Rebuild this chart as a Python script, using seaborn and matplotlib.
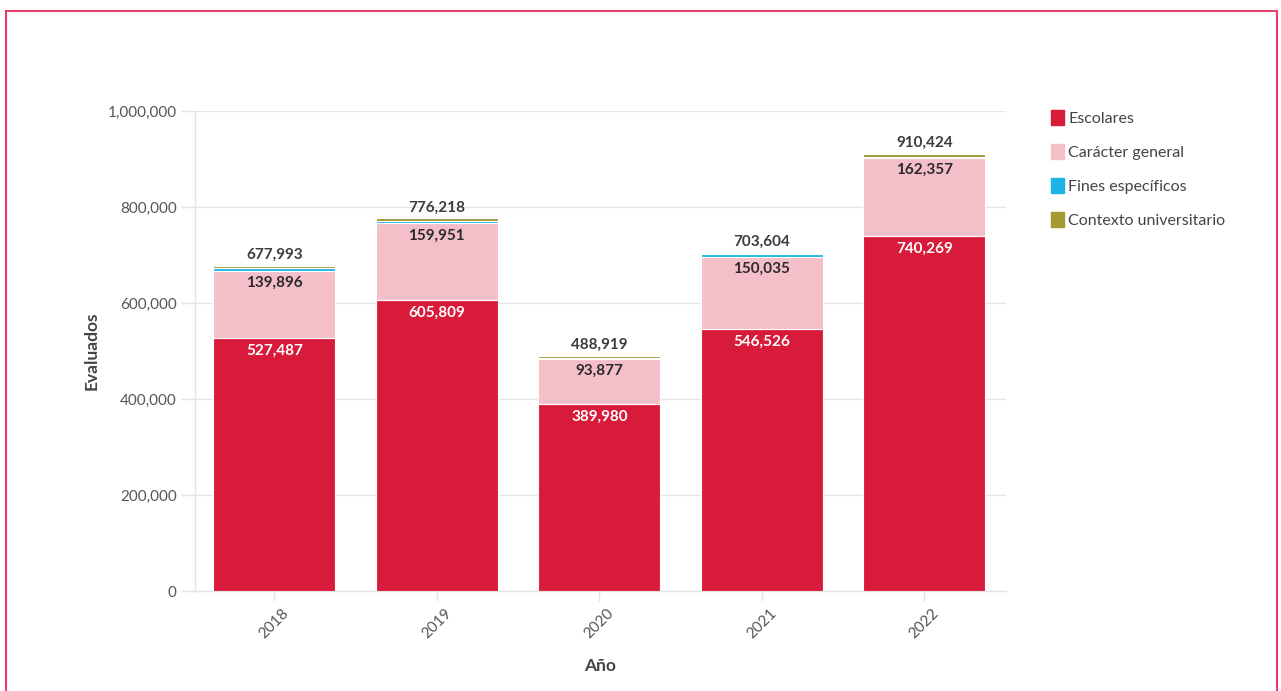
import matplotlib
matplotlib.use("Agg")
import matplotlib.pyplot as plt
from matplotlib.patches import Rectangle, Patch
from matplotlib.ticker import FuncFormatter
import seaborn as sns
import pandas as pd
import numpy as np

years = ["2018", "2019", "2020", "2021", "2022"]
escolares = [527487, 605809, 389980, 546526, 740269]
caracter_general = [139896, 159951, 93877, 150035, 162357]
fines_especificos = [4500, 4800, 1200, 4500, 2000]
contexto_universitario = [6110, 5658, 3862, 2543, 5798]
totales = [677993, 776218, 488919, 703604, 910424]

series_names = ["Escolares", "Carácter general", "Fines específicos", "Contexto universitario"]
series_values = [escolares, caracter_general, fines_especificos, contexto_universitario]
colors = ["#D81B3A", "#F4BFC9", "#1DB5E6", "#A39A31"]

sns.set_theme(style="white")
plt.rcParams["font.family"] = ["Lato", "DejaVu Sans"]

fig = plt.figure(figsize=(12.81, 6.91), dpi=100)
ax = fig.add_axes([0.152, 0.1447, 0.633, 0.6947])

df = pd.DataFrame({"Año": years})
bottom = np.zeros(len(years))
for name, vals, col in zip(series_names, series_values, colors):
    df[name] = vals
    sns.barplot(data=df, x="Año", y=name, bottom=bottom, color=col, width=0.75,
                edgecolor="white", linewidth=0.8, saturation=1, ax=ax, zorder=3)
    bottom = bottom + np.array(vals)

fmt = lambda v: f"{v:,.0f}"
for i in range(len(years)):
    top_e = escolares[i]
    top_c = escolares[i] + caracter_general[i]
    ax.text(i, top_e - 27000, fmt(escolares[i]), ha="center", va="center",
            color="white", fontsize=11, fontweight="bold", zorder=5)
    ax.text(i, top_c - 25000, fmt(caracter_general[i]), ha="center", va="center",
            color="#2a2a2a", fontsize=11, fontweight="bold", zorder=5)
    ax.text(i, totales[i] + 23000, fmt(totales[i]), ha="center", va="center",
            color="#3c3c3c", fontsize=11, fontweight="bold", zorder=5)

ax.set_ylim(0, 1000000)
ax.set_xlim(-0.49, 4.5)
ax.set_yticks(np.arange(0, 1000001, 200000))
ax.yaxis.set_major_formatter(FuncFormatter(lambda v, p: f"{v:,.0f}"))
ax.grid(axis="y", color="#E6E6E6", linewidth=1, zorder=0)
ax.set_axisbelow(True)

for s in ["top", "right"]:
    ax.spines[s].set_visible(False)
ax.spines["left"].set_color("#E3E3E3")
ax.spines["bottom"].set_color("#E3E3E3")
ax.spines["left"].set_linewidth(1)
ax.spines["bottom"].set_linewidth(1)

ax.tick_params(axis="y", left=True, length=10, width=1, color="#E3E3E3",
               labelsize=11, labelcolor="#555555", pad=3)
ax.tick_params(axis="x", bottom=True, length=7, width=1, color="#E3E3E3",
               labelsize=11, labelcolor="#555555", pad=4)
plt.setp(ax.get_xticklabels(), rotation=45, ha="center", va="top", rotation_mode="default")

ax.set_ylabel("Evaluados", fontsize=12.5, fontweight="bold", color="#444444", labelpad=6)
ax.set_xlabel("Año", fontsize=12.5, fontweight="bold", color="#444444", labelpad=12)

handles = [Patch(facecolor=c, edgecolor=c, label=n) for n, c in zip(series_names, colors)]
fig.legend(handles=handles, loc="upper left", bbox_to_anchor=(0.809, 0.861),
           frameon=False, fontsize=11.5, labelcolor="#444444",
           handlelength=0.85, handleheight=1.0, handletextpad=0.25, labelspacing=1.15)

fig.add_artist(Rectangle((6 / 1281, -0.05), 1271 / 1281, 1 - 11 / 691 + 0.05,
                         transform=fig.transFigure, fill=False,
                         edgecolor="#E4416A", linewidth=1.5))

fig.savefig("out.png", dpi=100, facecolor="white")
